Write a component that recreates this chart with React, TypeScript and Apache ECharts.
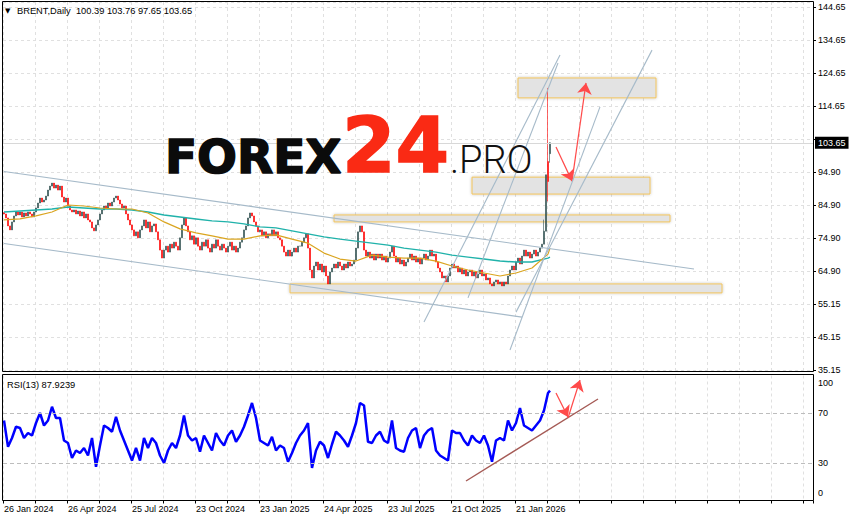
import React, { useEffect, useRef } from "react";
import * as echarts from "echarts";

// ---------------- data ----------------
const SYMBOL = "BRENT";
const PERIOD = "Daily";
const LAST_OHLC = [100.39, 103.76, 97.65, 103.65];
const RSI_PERIOD = 13;
const RSI_LAST = 87.9239;

const DATE_LABELS = [
  "26 Jan 2024", "26 Apr 2024", "25 Jul 2024", "23 Oct 2024", "23 Jan 2025",
  "24 Apr 2025", "23 Jul 2025", "21 Oct 2025", "21 Jan 2026",
];
const PRICE_TICK_LABELS = [
  "35.15", "45.15", "55.15", "64.90", "74.90", "84.90",
  "94.90", "104.65", "114.65", "124.65", "134.65", "144.65",
];
const RSI_LEVEL_LABELS = [0, 30, 70, 100];
const RSI_BANDS = [70, 30];

// closes, one candle per 2-day slot
const FIRST_OPEN = 82.6;
const CLOSES = [
  82.2, 81.0, 78.6, 77.4, 79.8, 81.6, 82.8, 81.9, 82.8, 81.3,
  82.5, 81.6, 82.8, 82.2, 81.3, 82.8, 84.0, 85.5, 87.0, 85.8,
  86.4, 87.6, 89.4, 90.6, 91.5, 90.0, 90.9, 89.4, 90.6, 87.3,
  85.8, 87.0, 84.6, 83.4, 82.8, 83.4, 82.2, 83.1, 81.6, 82.8,
  81.0, 82.2, 80.4, 79.8, 78.0, 77.1, 78.9, 80.4, 82.2, 83.4,
  84.6, 84.0, 85.5, 84.6, 85.8, 87.0, 87.6, 86.4, 85.2, 84.0,
  84.6, 82.2, 80.4, 78.9, 77.4, 75.6, 76.8, 75.0, 77.4, 78.6,
  80.4, 78.0, 79.8, 76.8, 78.6, 79.2, 76.8, 74.4, 71.3, 68.9,
  71.3, 72.5, 70.7, 73.1, 71.9, 73.7, 72.5, 71.3, 75.0, 78.9,
  81.0, 78.6, 76.8, 74.4, 75.6, 73.1, 75.0, 72.5, 71.3, 73.7,
  72.5, 74.4, 71.9, 70.7, 73.1, 71.9, 74.4, 72.5, 71.3, 73.1,
  71.9, 70.7, 72.5, 73.7, 71.3, 72.5, 70.7, 71.9, 73.7, 75.0,
  77.4, 78.6, 81.0, 82.5, 81.6, 79.8, 78.6, 76.8, 77.4, 75.6,
  76.8, 75.0, 76.2, 75.6, 77.4, 75.6, 76.8, 75.0, 74.4, 72.5,
  70.7, 69.5, 71.3, 69.5, 70.7, 71.9, 70.7, 72.5, 72.5, 73.7,
  75.0, 76.2, 71.9, 65.3, 62.9, 66.5, 67.7, 65.3, 67.1, 64.7,
  66.5, 63.5, 61.1, 64.7, 65.9, 67.1, 65.9, 67.7, 66.5, 65.3,
  67.1, 65.9, 67.7, 66.5, 67.1, 68.3, 71.9, 76.8, 78.6, 76.8,
  71.3, 69.5, 70.7, 68.9, 70.1, 68.3, 70.1, 68.9, 70.1, 68.3,
  69.5, 67.7, 68.9, 70.7, 72.5, 69.5, 67.7, 68.9, 67.1, 68.3,
  66.5, 67.7, 68.9, 70.1, 68.3, 69.5, 67.7, 68.9, 67.1, 68.9,
  70.1, 68.3, 69.5, 71.3, 69.5, 70.1, 67.7, 65.9, 64.7, 62.9,
  63.5, 61.7, 63.5, 65.9, 67.1, 65.9, 66.5, 64.7, 65.9, 64.1,
  65.3, 63.5, 64.7, 65.3, 63.5, 64.7, 62.9, 64.1, 65.3, 63.5,
  64.1, 62.3, 62.9, 61.1, 60.5, 61.7, 62.3, 61.1, 61.7, 60.5,
  61.7, 61.1, 63.5, 65.3, 66.5, 65.3, 67.7, 68.9, 67.1, 69.5,
  71.3, 69.5, 70.7, 68.9, 70.1, 71.3, 69.5, 70.7, 71.9, 73.1,
  77.0, 94.0, 92.0, 103.65,
];
// candles whose open / wicks are not just continuous bodies
const CANDLE_EXTRAS = [
  { i: 270, high: 80.5 },
  { i: 272, open: 98.0, low: 86.0, high: 120.2 },
  { i: 273, open: 100.39, low: 97.65, high: 103.76 },
];

// moving averages, one value every 8 slots (last one at the final candle)
const MA_SLOW = [
  82.8, 83.1, 83.4, 83.7, 84.3, 84.0, 83.7, 83.7, 83.4, 82.8,
  81.9, 81.3, 80.7, 80.1, 79.8, 79.2, 78.3, 78.0, 77.1, 76.2,
  75.3, 74.6, 74.0, 73.4, 72.8, 71.9, 71.3, 70.7, 69.8, 69.2,
  68.6, 68.0, 67.7, 67.7, 68.9, 69.2,
];
const MA_FAST = [
  80.4, 80.7, 81.6, 82.8, 84.9, 84.6, 84.0, 83.7, 83.7, 82.5,
  79.8, 77.7, 76.5, 75.6, 74.6, 74.6, 75.6, 75.9, 74.6, 73.4,
  70.4, 68.6, 68.0, 69.8, 69.2, 68.9, 68.9, 68.0, 66.5, 65.3,
  64.4, 63.5, 64.4, 65.9, 70.1, 71.9,
];
// RSI, one value every 2 slots
const RSI_VALUES = [
  64, 43, 50, 59, 58, 50, 54, 52, 62, 70,
  60, 64, 75, 66, 66, 48, 46, 34, 40, 38,
  42, 36, 50, 27, 44, 60, 58, 55, 67, 56,
  48, 40, 32, 42, 32, 50, 42, 50, 46, 36,
  30, 40, 46, 42, 52, 68, 52, 48, 50, 39,
  52, 46, 40, 54, 48, 44, 52, 56, 47, 52,
  59, 68, 78, 66, 48, 46, 44, 51, 40, 44,
  42, 31, 38, 46, 52, 56, 62, 26, 40, 47,
  44, 34, 45, 55, 52, 48, 43, 52, 62, 78,
  76, 47, 46, 52, 55, 48, 46, 64, 42, 40,
  39, 50, 56, 58, 42, 52, 56, 58, 40, 36,
  34, 32, 56, 54, 54, 48, 44, 52, 48, 46,
  52, 44, 31, 48, 50, 48, 64, 56, 62, 74,
  60, 58, 56, 60, 64, 72, 86,
];

// drawn annotations: [slot, price]
const CHANNEL_LINES = [
  [[0, 95.0], [345, 65.6]],
  [[0, 73.3], [259, 51.1]],
  [[210, 49.6], [278, 130.1]],
  [[232, 56.9], [277, 127.7]],
  [[253, 41.2], [298, 114.5]],
  [[256, 52.6], [324, 131.6]],
];
const ZONES = [
  [[257, 123.2], [326, 117.2]],
  [[234, 93.3], [323, 88.2]],
  [[165, 81.9], [333, 79.8]],
  [[143, 61.1], [359, 58.4]],
];
const PRICE_ARROWS = [
  [[276, 102.4], [284, 92.1]],
  [[284, 92.1], [291, 121.7]],
];
const RSI_TREND = [[231, 15.6], [297, 81.2]];
const RSI_ARROWS = [
  [[276, 86], [282, 66.8]],
  [[282, 66], [288, 96.4]],
];

// ---------------- scale setup ----------------
const SLOTS = 405;
const PRICE_MIN = 35.15;
const PRICE_MAX = 146.11;
const PRICE_TICK_BASE = 35.15;
const PRICE_TICK_STEP = 9.95;
const MA_STEP = 8;
const RSI_STEP = 2;
const DATE_STEP = 32;

const FONT = "'Liberation Sans', Arial, sans-serif";

export default function App() {
  const ref = useRef<HTMLDivElement>(null);

  useEffect(() => {
    if (!ref.current) return;
    const chart = echarts.init(ref.current, null, { renderer: "svg" });

    const LAST = CLOSES.length - 1;
    const lastPrice = LAST_OHLC[3];
    const categories = Array.from({ length: SLOTS }, (_, i) => String(i));
    const candles = CLOSES.map((c, i) => {
      const ex: any = CANDLE_EXTRAS.find((e) => e.i === i) || {};
      const open = ex.open ?? (i === 0 ? FIRST_OPEN : CLOSES[i - 1]);
      const low = ex.low ?? Math.min(open, c);
      const high = ex.high ?? Math.max(open, c);
      return [open, c, low, high];
    });
    const maIdx = (i: number) => Math.min(i * MA_STEP, LAST);
    const rsiData = RSI_VALUES.map((v, j) => [j * RSI_STEP, v]).concat([[LAST, RSI_LAST]]);

    const gridLine = { color: "#E0E0E0", type: [3, 3], width: 1 };
    const labelAxisMax = (PRICE_MAX - PRICE_TICK_BASE) / PRICE_TICK_STEP;
    const arrowRed = "#FF4A4A";
    const chanColor = "#A6BAC9";

    const arrowItems = (arrs: number[][][]) =>
      arrs.map((a) => [
        { coord: a[0], symbol: "none", lineStyle: { color: arrowRed, width: 1.2, type: "solid" } },
        { coord: a[1], symbol: "arrow", symbolSize: 11 },
      ]);

    const option: any = {
      animation: false,
      backgroundColor: "#ffffff",
      grid: [
        { left: 3, top: 2, width: 810, height: 368 },
        { left: 3, top: 375.5, width: 810, height: 125 },
      ],
      xAxis: [
        {
          type: "category", gridIndex: 0, data: categories, boundaryGap: true,
          axisLine: { show: false }, axisTick: { show: false }, axisLabel: { show: false },
          splitLine: { show: true, interval: 15, lineStyle: gridLine },
        },
        {
          type: "category", gridIndex: 1, data: categories, boundaryGap: true,
          axisLine: { show: false },
          axisTick: { show: true, interval: 15, length: 3, lineStyle: { color: "#000" } },
          axisLabel: {
            show: true, interval: DATE_STEP - 1, align: "left", margin: 4,
            fontSize: 9, fontFamily: FONT, color: "#000",
            formatter: (v: string) => DATE_LABELS[Number(v) / DATE_STEP] ?? "",
          },
          splitLine: { show: true, interval: 15, lineStyle: gridLine },
        },
      ],
      yAxis: [
        { type: "value", gridIndex: 0, min: PRICE_MIN, max: PRICE_MAX, show: false },
        {
          type: "value", gridIndex: 0, position: "right", min: 0, max: labelAxisMax, interval: 1,
          axisLine: { show: false },
          axisTick: { show: true, length: 3, lineStyle: { color: "#000" } },
          axisLabel: {
            margin: 5, fontSize: 9, fontFamily: FONT, color: "#000", showMaxLabel: false,
            formatter: (v: number) => {
              const r = Math.round(v);
              if (Math.abs(v - r) > 1e-6) return "";
              const tickPrice = PRICE_TICK_BASE + r * PRICE_TICK_STEP;
              // the current-price tag covers the tick label next to it
              if (Math.abs(tickPrice - lastPrice) < PRICE_TICK_STEP / 3) return "";
              return PRICE_TICK_LABELS[r] ?? "";
            },
          },
          splitLine: { show: true, lineStyle: gridLine },
        },
        {
          type: "value", gridIndex: 1, position: "right", min: 0, max: 100, interval: 10,
          axisLine: { show: false }, axisTick: { show: false },
          axisLabel: {
            margin: 5, fontSize: 9, fontFamily: FONT, color: "#000",
            formatter: (v: number) =>
              v === 100 ? "{top|100}" : v === 0 ? "{bot|0}" : RSI_LEVEL_LABELS.includes(v) ? String(v) : "",
            rich: {
              top: { padding: [15, 0, 0, 0], fontSize: 9, fontFamily: FONT, color: "#000" },
              bot: { padding: [0, 0, 15, 0], fontSize: 9, fontFamily: FONT, color: "#000" },
            },
          },
          splitLine: { show: false },
        },
      ],
      series: [
        {
          type: "candlestick", xAxisIndex: 0, yAxisIndex: 0, data: candles, barWidth: 1.6,
          z: 3,
          itemStyle: {
            color: "#2F4F4F", color0: "#FF0000",
            borderColor: "#2F4F4F", borderColor0: "#FF0000", borderWidth: 0.6,
          },
          markArea: {
            silent: true,
            itemStyle: {
              color: "#E3E3E3", borderColor: "#F2C45C", borderWidth: 1,
              shadowBlur: 3, shadowColor: "rgba(0,0,0,0.25)",
            },
            data: ZONES.map((z) => [{ coord: z[0] }, { coord: z[1] }]),
          },
          markLine: {
            silent: true, symbol: "none", animation: false,
            label: { show: false },
            data: [
              {
                yAxis: lastPrice,
                lineStyle: { color: "#D8D8D8", width: 1, type: "solid" },
                label: {
                  show: true, position: "end", distance: 2,
                  formatter: () => lastPrice.toFixed(2),
                  backgroundColor: "#000", color: "#fff", padding: [2, 3, 1, 3],
                  fontSize: 9, fontFamily: FONT,
                },
              },
              ...arrowItems(PRICE_ARROWS),
            ],
          },
        },
        {
          type: "line", xAxisIndex: 0, yAxisIndex: 0, symbol: "none", z: 4,
          data: MA_SLOW.map((v, i) => [maIdx(i), v]),
          lineStyle: { color: "#20B2AA", width: 1.4 },
        },
        {
          type: "line", xAxisIndex: 0, yAxisIndex: 0, symbol: "none", z: 4,
          data: MA_FAST.map((v, i) => [maIdx(i), v]),
          lineStyle: { color: "#DAA520", width: 1.2 },
        },
        ...CHANNEL_LINES.map((ln) => ({
          type: "line", xAxisIndex: 0, yAxisIndex: 0, symbol: "none", z: 5,
          data: ln, lineStyle: { color: chanColor, width: 1.1 },
        })),
        {
          type: "line", xAxisIndex: 1, yAxisIndex: 2, symbol: "none", z: 4,
          data: rsiData, lineStyle: { color: "#0000FF", width: 2.5 },
          markLine: {
            silent: true, symbol: "none", label: { show: false },
            data: [
              ...RSI_BANDS.map((b) => ({ yAxis: b, lineStyle: { color: "#BDBDBD", type: [4, 3], width: 1 } })),
              [
                { coord: RSI_TREND[0], lineStyle: { color: "#A55A55", width: 1.4, type: "solid" } },
                { coord: RSI_TREND[1] },
              ],
              ...arrowItems(RSI_ARROWS),
            ],
          },
        },
      ],
      graphic: [
        { type: "rect", silent: true, z: 100, shape: { x: 2.5, y: 1.5, width: 811, height: 370 }, style: { fill: "none", stroke: "#000", lineWidth: 1 } },
        { type: "rect", silent: true, z: 100, shape: { x: 2.5, y: 374.5, width: 811, height: 126 }, style: { fill: "none", stroke: "#000", lineWidth: 1 } },
        { type: "text", silent: true, z: 100, x: 5, y: 11, style: { text: "▼", fontSize: 7, fontFamily: "DejaVu Sans", fill: "#000", verticalAlign: "middle" } },
        {
          type: "text", silent: true, z: 100, x: 17, y: 11,
          style: {
            text: `${SYMBOL},${PERIOD}  ${LAST_OHLC.map((v) => v.toFixed(2)).join(" ")}`,
            fontSize: 9.3, fontFamily: FONT, fill: "#000", verticalAlign: "middle",
          },
        },
        {
          type: "text", silent: true, z: 100, x: 7, y: 385,
          style: { text: `RSI(${RSI_PERIOD}) ${RSI_LAST}`, fontSize: 9.3, fontFamily: FONT, fill: "#000", verticalAlign: "middle" },
        },
        {
          type: "text", silent: true, z: 60, x: 165, y: 156,
          style: { text: "FOREX", fontSize: 47, fontWeight: "bold", fontFamily: "DejaVu Sans", fill: "#0b0b0b", stroke: "#0b0b0b", lineWidth: 1.5, verticalAlign: "middle" },
        },
        {
          type: "text", silent: true, z: 60, x: 342, y: 145,
          style: { text: "24", fontSize: 77, fontWeight: "bold", fontFamily: "DejaVu Sans", fill: "#FA2A14", stroke: "#FA2A14", lineWidth: 1.5, verticalAlign: "middle" },
        },
        {
          type: "text", silent: true, z: 60, x: 450, y: 160,
          style: { text: ".PRO", fontSize: 38, fontWeight: 300, fontFamily: "Roboto", fill: "#111", verticalAlign: "middle" },
        },
      ],
    };

    chart.setOption(option);
    return () => chart.dispose();
  }, []);

  return (
    <div
      ref={ref}
      style={{ position: "fixed", left: 0, top: 0, width: 854, height: 521, background: "#fff" }}
    />
  );
}
